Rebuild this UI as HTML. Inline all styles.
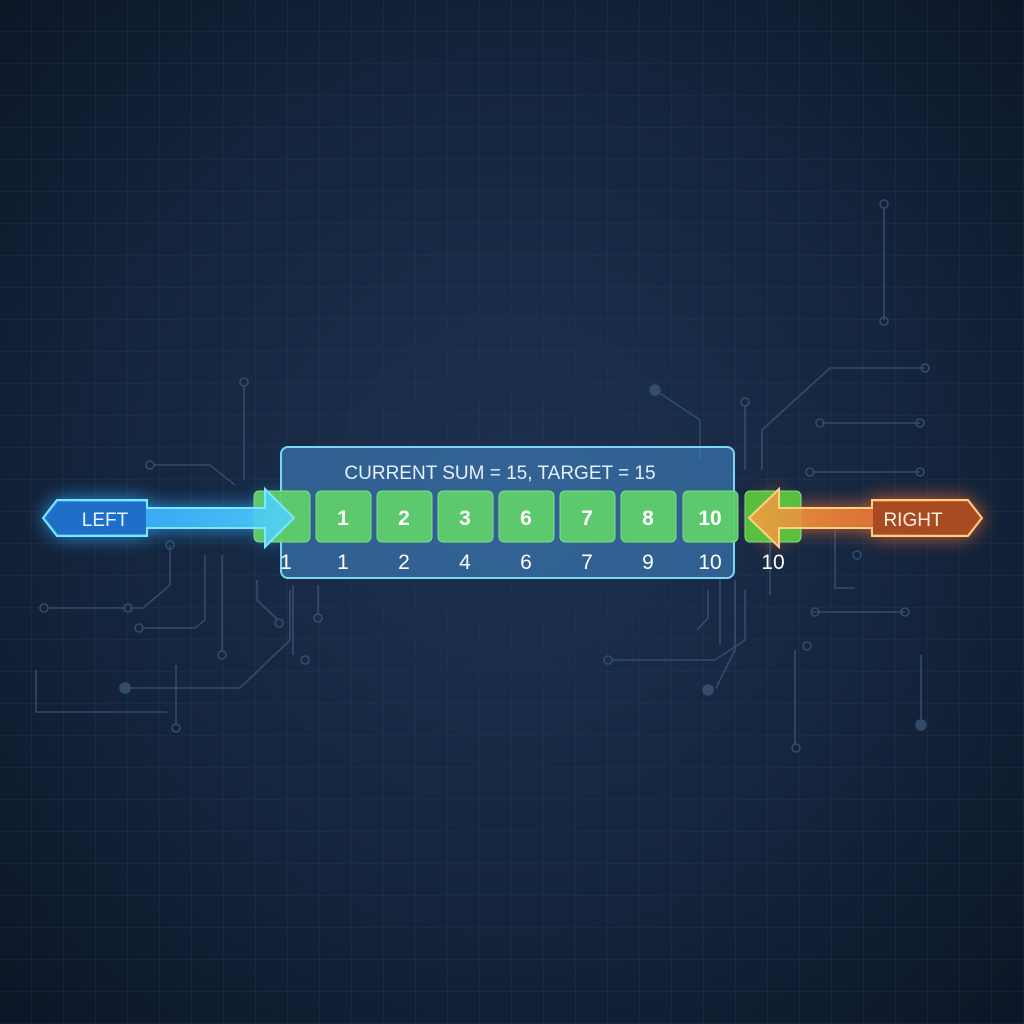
<!DOCTYPE html>
<html><head><style>html,body{margin:0;padding:0;background:#0f1b2e}svg{display:block}</style></head>
<body>
<svg width="1024" height="1024" viewBox="0 0 1024 1024" xmlns="http://www.w3.org/2000/svg" font-family="Liberation Sans, sans-serif">
<defs>
<radialGradient id="bg" cx="50%" cy="48%" r="70%">
<stop offset="0" stop-color="#1c3150"/><stop offset="0.6" stop-color="#14243c"/><stop offset="1" stop-color="#0c1626"/></radialGradient>
<pattern id="grid" width="32" height="32" patternUnits="userSpaceOnUse"><path d="M32 0V32H0" fill="none" stroke="#2a4262" stroke-width="1" opacity="0.45"/></pattern>
<filter id="glow" x="-50%" y="-150%" width="200%" height="400%"><feGaussianBlur stdDeviation="10"/></filter>
<linearGradient id="shaftB" x1="0" x2="1"><stop offset="0" stop-color="#2f9cff"/><stop offset="1" stop-color="#4fd4ff"/></linearGradient>
<linearGradient id="shaftO" x1="0" x2="1"><stop offset="0" stop-color="#f6a040"/><stop offset="1" stop-color="#d8532a"/></linearGradient>
</defs>
<rect width="1024" height="1024" fill="url(#bg)"/>
<rect width="1024" height="1024" fill="url(#grid)"/>
<g fill="none" stroke="#3a5676" stroke-width="1.6" opacity="0.8">
<path d="M884 207V320"/><circle cx="884" cy="204" r="4"/><circle cx="884" cy="321" r="4"/>
<path d="M655 390L700 420V460"/><path d="M745 405V470"/><circle cx="745" cy="402" r="4"/>
<path d="M762 470V430L830 368H925"/><circle cx="925" cy="368" r="4"/>
<path d="M822 423H920"/><circle cx="820" cy="423" r="4"/><circle cx="920" cy="423" r="4"/>
<path d="M812 472H920"/><circle cx="810" cy="472" r="4"/><circle cx="920" cy="472" r="4"/>
<path d="M770 524V595"/>
<path d="M835 530V588H855"/><circle cx="857" cy="555" r="4"/>
<path d="M735 580V650L716 688"/><path d="M720 580V645"/><path d="M708 590V618L697 630"/>
<path d="M612 660H715L745 640V590"/><circle cx="608" cy="660" r="4"/>
<path d="M812 612H905"/><circle cx="815" cy="612" r="4"/><circle cx="905" cy="612" r="4"/>
<path d="M795 650V745"/><circle cx="807" cy="646" r="4"/><circle cx="796" cy="748" r="4"/>
<path d="M921 655V720"/>
<path d="M244 385V480"/><circle cx="244" cy="382" r="4"/>
<path d="M153 465H210L235 485"/><circle cx="150" cy="465" r="4"/>
<path d="M170 545V585L143 608H130"/><circle cx="170" cy="545" r="4"/><circle cx="128" cy="608" r="4"/><circle cx="44" cy="608" r="4"/><path d="M48 608H125"/>
<path d="M205 555V620L195 628H142"/><circle cx="139" cy="628" r="4"/>
<path d="M222 555V652"/><circle cx="222" cy="655" r="4"/>
<path d="M257 580V600L278 620"/><circle cx="279" cy="623" r="4"/>
<path d="M293 585V655"/><circle cx="305" cy="660" r="4"/>
<path d="M318 585V615"/><circle cx="318" cy="618" r="4"/>
<path d="M130 688H240L290 640V590"/><circle cx="125" cy="688" r="5" fill="#3a5676"/>
<path d="M36 670V712H167"/><path d="M176 665V725"/><circle cx="176" cy="728" r="4"/>
<circle cx="655" cy="390" r="5" fill="#3a5676"/><circle cx="708" cy="690" r="5" fill="#3a5676"/><circle cx="921" cy="725" r="5" fill="#3a5676"/>
</g>
<!-- glows -->
<path d="M43 518L57 500H147V508H265V489L294 518L265 547V528H147V536H57Z" fill="#2fa8ff" filter="url(#glow)" opacity="0.9"/>
<path d="M982 518L968 500H872V508H779V489L749 518L779 547V528H872V536H968Z" fill="#f07030" filter="url(#glow)" opacity="0.9"/>
<!-- panel -->
<rect x="281" y="447" width="453" height="131" rx="7" fill="#3a77b0" fill-opacity="0.7" stroke="#7fd6f4" stroke-width="2"/>
<text x="500" y="479" text-anchor="middle" font-size="19" fill="#e6f0fa">CURRENT SUM = 15, TARGET = 15</text>
<g fill="#5fcf6a" stroke="#7fe08a" stroke-width="1" fill-opacity="0.95">
<rect x="254" y="491" width="56" height="51" rx="5"/>
<rect x="316" y="491" width="55" height="51" rx="5"/>
<rect x="377" y="491" width="55" height="51" rx="5"/>
<rect x="438" y="491" width="55" height="51" rx="5"/>
<rect x="499" y="491" width="55" height="51" rx="5"/>
<rect x="560" y="491" width="55" height="51" rx="5"/>
<rect x="621" y="491" width="55" height="51" rx="5"/>
<rect x="683" y="491" width="55" height="51" rx="5"/>
<rect x="745" y="491" width="56" height="51" rx="5" fill="#5cc63e"/>
</g>
<g font-size="21" fill="#ffffff" text-anchor="middle" font-weight="bold">
<text x="343" y="525">1</text><text x="404" y="525">2</text><text x="465" y="525">3</text><text x="526" y="525">6</text><text x="587" y="525">7</text><text x="648" y="525">8</text><text x="710" y="525">10</text>
</g>
<g font-size="21" fill="#ffffff" text-anchor="middle">
<text x="286" y="569">1</text><text x="343" y="569">1</text><text x="404" y="569">2</text><text x="465" y="569">4</text><text x="526" y="569">6</text><text x="587" y="569">7</text><text x="648" y="569">9</text><text x="710" y="569">10</text><text x="773" y="569">10</text>
</g>
<!-- left arrow -->
<path d="M43 518L57 500H147V508H265V489L294 518L265 547V528H147V536H57Z" fill="url(#shaftB)" fill-opacity="0.85" stroke="#7fe6ff" stroke-width="2"/>
<path d="M45 518L58 502H146V534H58Z" fill="#1f6fc8"/>
<text x="105" y="526" text-anchor="middle" font-size="19" fill="#e8f4ff">LEFT</text>
<!-- right arrow -->
<path d="M982 518L968 500H872V508H779V489L749 518L779 547V528H872V536H968Z" fill="url(#shaftO)" fill-opacity="0.85" stroke="#ffd080" stroke-width="2"/>
<path d="M980 518L967 502H873V534H967Z" fill="#a84a22"/>
<text x="913" y="526" text-anchor="middle" font-size="19" fill="#fff2e0">RIGHT</text>
</svg>
</body></html>
